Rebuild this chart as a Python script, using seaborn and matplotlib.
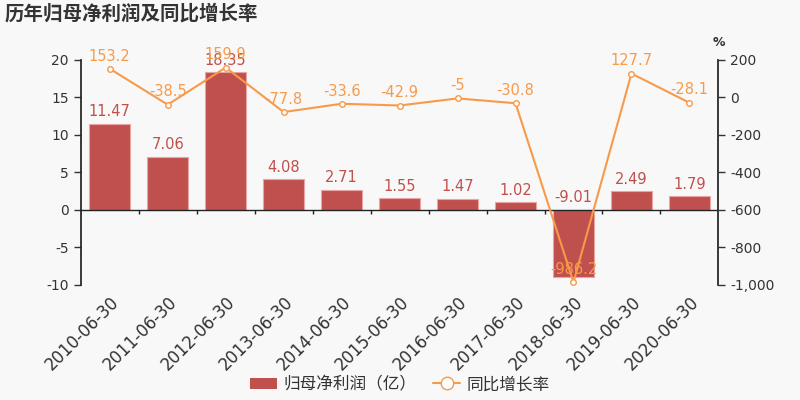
import numpy as np
import pandas as pd
import matplotlib
matplotlib.use('Agg')
import matplotlib.pyplot as plt
import seaborn as sns
from matplotlib.patches import Patch
from matplotlib.lines import Line2D

dates = ['2010-06-30', '2011-06-30', '2012-06-30', '2013-06-30', '2014-06-30', '2015-06-30',
         '2016-06-30', '2017-06-30', '2018-06-30', '2019-06-30', '2020-06-30']
profit = [11.47, 7.06, 18.35, 4.08, 2.71, 1.55, 1.47, 1.02, -9.01, 2.49, 1.79]
growth = [153.2, -38.5, 159.9, -77.8, -33.6, -42.9, -5, -30.8, -986.2, 127.7, -28.1]

bar_color = '#c0504d'
line_color = '#f79a4a'
text_color = '#333333'

sns.set_theme(style='white')
plt.rcParams['font.family'] = ['DejaVu Sans', 'Noto Sans CJK SC']
plt.rcParams['axes.unicode_minus'] = False

df = pd.DataFrame({'date': dates, 'profit': profit, 'growth': growth})

fig = plt.figure(figsize=(8, 4), dpi=100, facecolor='#f8f8f8')
ax = fig.add_axes([0.101, 0.288, 0.797, 0.562])
ax.set_facecolor('#f8f8f8')

sns.barplot(data=df, x='date', y='profit', color=bar_color, width=0.70, saturation=1,
            edgecolor='#e8a5a3', linewidth=0.8, ax=ax)
ax.set_ylim(-10, 20)
ax.set_yticks([-10, -5, 0, 5, 10, 15, 20])
ax.set_xlim(-0.5, len(dates) - 0.5)
ax.set_xlabel('')
ax.set_ylabel('')

for i, v in enumerate(profit):
    ax.text(i, max(v, 0) + 0.6, f'{v:g}', ha='center', va='bottom', color=bar_color, fontsize=10.5)

ax.axhline(0, color='#222222', lw=1)
ax.vlines(np.arange(1, len(dates)) - 0.5, -0.55, 0, color='#222222', lw=1)

ax2 = ax.twinx()
sns.lineplot(x=np.arange(len(dates)), y=growth, ax=ax2, color=line_color, lw=1.5,
             marker='o', markersize=4, markerfacecolor='white', markeredgecolor=line_color,
             markeredgewidth=1)
ax2.set_ylim(-1000, 200)
ax2.set_yticks([-1000, -800, -600, -400, -200, 0, 200])
ax2.yaxis.set_major_formatter(matplotlib.ticker.FuncFormatter(lambda v, p: f'{v:,.0f}'))
for i, v in enumerate(growth):
    ax2.text(i, v + 28, f'{v:g}', ha='center', va='bottom', color=line_color, fontsize=10.5)
ax2.text(1.0, 1.05, '%', transform=ax2.transAxes, ha='center', va='bottom', fontsize=9,
         color=text_color, fontweight='bold')

for a in (ax, ax2):
    for s in ('top', 'bottom'):
        a.spines[s].set_visible(False)
    a.tick_params(axis='y', length=5, width=1, colors=text_color, labelsize=10, direction='out')
ax.spines['left'].set_color('#222222')
ax.spines['right'].set_visible(False)
ax2.spines['right'].set_color('#222222')
ax2.spines['left'].set_visible(False)
ax.tick_params(axis='y', left=True)
ax2.tick_params(axis='y', right=True)

ax.tick_params(axis='x', length=0, labelsize=12, colors=text_color, pad=6)
plt.setp(ax.get_xticklabels(), rotation=45, ha='right', rotation_mode='anchor')

fig.text(0.006, 0.965, '历年归母净利润及同比增长率', fontsize=14, fontweight='bold',
         color='#333333', ha='left', va='center', family=['Noto Sans CJK SC'])

handles = [Patch(facecolor=bar_color, edgecolor='none'),
           Line2D([0], [0], color=line_color, marker='o', markersize=9,
                  markerfacecolor='white', markeredgecolor=line_color, lw=1.5)]
fig.legend(handles, ['归母净利润（亿）', '同比增长率'], loc='center', bbox_to_anchor=(0.5, 0.038),
           ncol=2, frameon=False, handlelength=1.6, columnspacing=1.0,
           handletextpad=0.4, labelcolor=text_color, prop={'family': ['Noto Sans CJK SC'], 'size': 12})

fig.savefig('out.png', dpi=100, facecolor=fig.get_facecolor())
